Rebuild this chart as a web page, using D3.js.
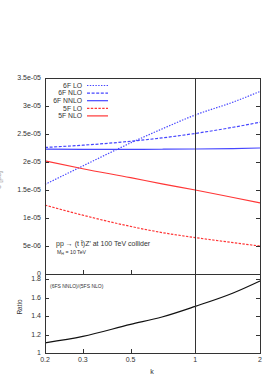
<!DOCTYPE html>
<html>
<head>
<meta charset="utf-8">
<script src="https://cdn.jsdelivr.net/npm/d3@7"></script>
<style>
  body { margin: 0; background: #fff; }
  svg { display: block; font-family: "Liberation Sans", Arial, sans-serif; }
</style>
</head>
<body>
<svg id="chart" width="274" height="392"></svg>
<script>
'use strict';

// scale parameter k (x, log axis)
var kValues = [0.2, 0.3, 0.5, 0.7, 1, 1.5, 2];

// cross sections (pb)
var lo6F   = [1.60e-5, 1.93e-5, 2.34e-5, 2.59e-5, 2.84e-5, 3.07e-5, 3.26e-5];
var nlo6F  = [2.26e-5, 2.30e-5, 2.37e-5, 2.43e-5, 2.51e-5, 2.62e-5, 2.71e-5];
var nnlo6F = [2.23e-5, 2.225e-5, 2.225e-5, 2.228e-5, 2.232e-5, 2.24e-5, 2.25e-5];
var lo5F   = [1.23e-5, 1.05e-5, 0.85e-5, 0.74e-5, 0.65e-5, 0.56e-5, 0.50e-5];
var nlo5F  = [2.02e-5, 1.88e-5, 1.72e-5, 1.61e-5, 1.50e-5, 1.366e-5, 1.27e-5];

// (6FS NNLO)/(5FS NLO)
var ratio  = [1.11, 1.18, 1.31, 1.39, 1.505, 1.65, 1.78];

var xTicks = [0.2, 0.3, 0.5, 1, 2];
var yTicks = [0, 5e-6, 1e-5, 1.5e-5, 2e-5, 2.5e-5, 3e-5, 3.5e-5];
var yTickLabels = ['0', '5e-06', '1e-05', '1.5e-05', '2e-05', '2.5e-05', '3e-05', '3.5e-05'];
var rTicks = [1, 1.2, 1.4, 1.6, 1.8];

var blue = '#4646ff',
    red = '#ff3636',
    axisCol = '#333';

var series = [
    {name: '6F LO',   vals: lo6F,   color: blue, dash: '1.4,1.4'},
    {name: '6F NLO',  vals: nlo6F,  color: blue, dash: '3,1.6'},
    {name: '6F NNLO', vals: nnlo6F, color: blue, dash: null},
    {name: '5F LO',   vals: lo5F,   color: red,  dash: '2.4,1.4'},
    {name: '5F NLO',  vals: nlo5F,  color: red,  dash: null}
];

var svg = d3.select('#chart');

var left = 45, right = 260,
    top1 = 78, bot1 = 274,
    bot2 = 353;

var x = d3.scaleLog().domain([0.2, 2]).range([left, right]);
var y = d3.scaleLinear().domain([0, 3.5e-5]).range([bot1, top1]);
var yr = d3.scaleLinear().domain([1, 1.855]).range([bot2, bot1]);

var tickLen = 4;

function drawLine(vals, yScale) {
    return d3.line()
        .x(function(d) { return x(d[0]); })
        .y(function(d) { return yScale(d[1]); })
        .curve(d3.curveMonotoneX)(kValues.map(function(k, i) { return [k, vals[i]]; }));
}

// ---- top panel ----
var g1 = svg.append('g');

// curves
series.forEach(function(s) {
    g1.append('path')
        .attr('d', drawLine(s.vals, y))
        .attr('fill', 'none')
        .attr('stroke', s.color)
        .attr('stroke-width', 1.2)
        .attr('stroke-dasharray', s.dash);
});

// y ticks + labels (left and mirrored right)
yTicks.forEach(function(v, i) {
    var yy = Math.round(y(v)) + 0.5;
    g1.append('line').attr('x1', left).attr('x2', left + tickLen)
        .attr('y1', yy).attr('y2', yy).attr('stroke', axisCol);
    g1.append('line').attr('x1', right - tickLen).attr('x2', right)
        .attr('y1', yy).attr('y2', yy).attr('stroke', axisCol);
    g1.append('text')
        .attr('x', left - 4).attr('y', y(v) + 2.4)
        .attr('text-anchor', 'end')
        .attr('font-size', 7).attr('fill', axisCol)
        .text(yTickLabels[i]);
});

// x ticks on bottom of top panel
xTicks.forEach(function(k) {
    var xx = Math.round(x(k)) + 0.5;
    g1.append('line').attr('x1', xx).attr('x2', xx)
        .attr('y1', bot1).attr('y2', bot1 - tickLen).attr('stroke', axisCol);
});

// frame
g1.append('rect')
    .attr('x', left + 0.5).attr('y', top1 + 0.5)
    .attr('width', right - left).attr('height', bot1 - top1)
    .attr('fill', 'none').attr('stroke', axisCol).attr('stroke-width', 1);

// legend
var legend = g1.append('g');
series.forEach(function(s, i) {
    var ly = 85.5 + i * 7.6;
    legend.append('text')
        .attr('x', 82).attr('y', ly + 2.3)
        .attr('text-anchor', 'end')
        .attr('font-size', 6.8).attr('fill', axisCol)
        .text(s.name);
    legend.append('line')
        .attr('x1', 87).attr('x2', 108)
        .attr('y1', ly).attr('y2', ly)
        .attr('stroke', s.color).attr('stroke-width', 1.2)
        .attr('stroke-dasharray', s.dash);
});

// annotation
g1.append('text')
    .attr('x', 56).attr('y', 246)
    .attr('font-size', 7).attr('fill', axisCol)
    .text('pp \u2192 (t t\u0304)Z\u2032 at 100 TeV collider');
var mh = g1.append('text')
    .attr('x', 57).attr('y', 254)
    .attr('font-size', 5.2).attr('fill', axisCol);
mh.append('tspan').text('M');
mh.append('tspan').attr('font-size', 3.8).attr('dy', 1.2).text('H');
mh.append('tspan').attr('dy', -1.2).text(' = 10 TeV');

// y axis title, mostly out of the window
g1.append('text')
    .attr('transform', 'translate(1,180) rotate(-90)')
    .attr('text-anchor', 'middle')
    .attr('font-size', 7).attr('fill', '#999')
    .text('\u03c3 [pb]');

// ---- ratio panel ----
var g2 = svg.append('g');

g2.append('path')
    .attr('d', drawLine(ratio, yr))
    .attr('fill', 'none')
    .attr('stroke', '#111')
    .attr('stroke-width', 1.2);

rTicks.forEach(function(v) {
    var yy = Math.round(yr(v)) + 0.5;
    g2.append('line').attr('x1', left).attr('x2', left + tickLen)
        .attr('y1', yy).attr('y2', yy).attr('stroke', axisCol);
    g2.append('line').attr('x1', right - tickLen).attr('x2', right)
        .attr('y1', yy).attr('y2', yy).attr('stroke', axisCol);
    g2.append('text')
        .attr('x', left - 4).attr('y', yr(v) + 2.4)
        .attr('text-anchor', 'end')
        .attr('font-size', 7).attr('fill', axisCol)
        .text(d3.format('.1f')(v).replace(/\.0$/, ''));
});

xTicks.forEach(function(k) {
    var xx = Math.round(x(k)) + 0.5;
    g2.append('line').attr('x1', xx).attr('x2', xx)
        .attr('y1', bot2).attr('y2', bot2 - tickLen).attr('stroke', axisCol);
    g2.append('text')
        .attr('x', x(k)).attr('y', bot2 + 9)
        .attr('text-anchor', 'middle')
        .attr('font-size', 7).attr('fill', axisCol)
        .text(k);
});

g2.append('rect')
    .attr('x', left + 0.5).attr('y', bot1 + 0.5)
    .attr('width', right - left).attr('height', bot2 - bot1)
    .attr('fill', 'none').attr('stroke', axisCol).attr('stroke-width', 1);

// vertical marker at k = 1 through both panels
svg.append('line')
    .attr('x1', Math.round(x(1)) + 0.5).attr('x2', Math.round(x(1)) + 0.5)
    .attr('y1', top1).attr('y2', bot2)
    .attr('stroke', axisCol).attr('stroke-width', 1);

g2.append('text')
    .attr('x', 50).attr('y', 288)
    .attr('font-size', 5).attr('fill', axisCol)
    .text('(6FS NNLO)/(5FS NLO)');

g2.append('text')
    .attr('transform', 'translate(22,307) rotate(-90)')
    .attr('text-anchor', 'middle')
    .attr('font-size', 6.5).attr('fill', axisCol)
    .text('Ratio');

svg.append('text')
    .attr('x', 152).attr('y', 374)
    .attr('text-anchor', 'middle')
    .attr('font-size', 7).attr('fill', axisCol)
    .text('k');
</script>
</body>
</html>
